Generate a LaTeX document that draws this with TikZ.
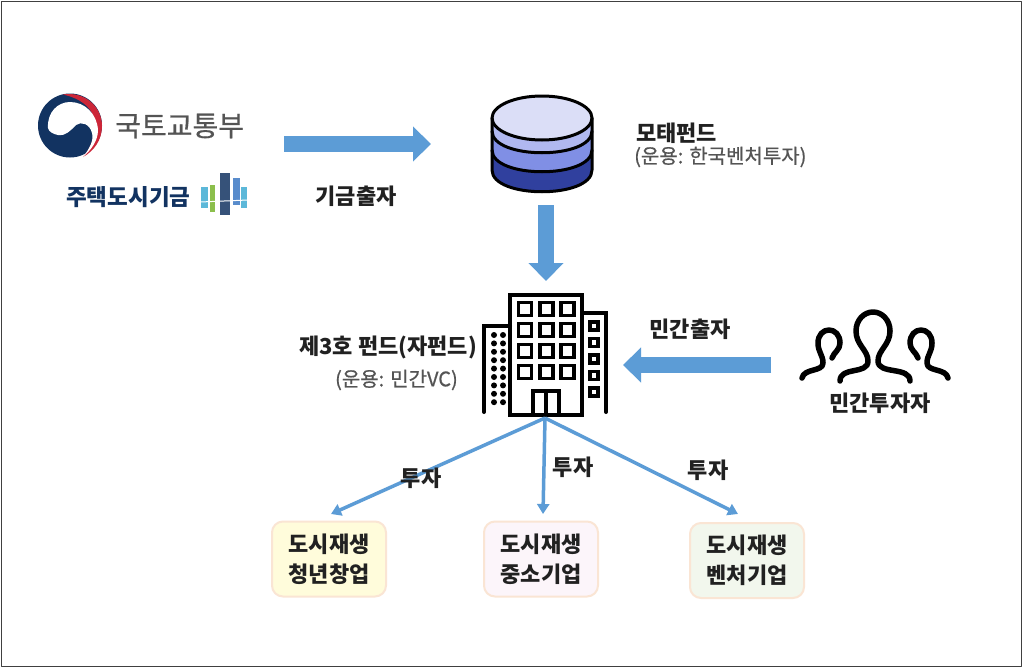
\documentclass[tikz,border=0pt]{standalone}
\usepackage{fontspec}
\setmainfont{Noto Sans CJK KR}
\newfontfamily\midfont[FakeBold=0.6]{Noto Sans CJK KR}
\usetikzlibrary{arrows.meta}
\definecolor{navyblue}{rgb}{0.07,0.20,0.38}
\definecolor{logored}{rgb}{0.80,0.15,0.22}
\definecolor{arrowblue}{rgb}{0.36,0.61,0.84}
\definecolor{boxline}{rgb}{0.98,0.90,0.83}
\definecolor{boxyellow}{rgb}{1.,0.99,0.86}
\definecolor{boxpink}{rgb}{0.99,0.96,0.98}
\definecolor{boxgreen}{rgb}{0.95,0.97,0.93}
\definecolor{diskone}{rgb}{0.86,0.87,0.97}
\definecolor{disktwo}{rgb}{0.69,0.72,0.94}
\definecolor{diskthree}{rgb}{0.50,0.56,0.90}
\definecolor{diskfour}{rgb}{0.19,0.25,0.62}
\definecolor{inktext}{rgb}{0.13,0.13,0.13}
\definecolor{graytext}{rgb}{0.33,0.33,0.33}
\definecolor{markcyan}{rgb}{0.36,0.72,0.85}
\definecolor{markgreen}{rgb}{0.55,0.75,0.30}
\definecolor{markblue}{rgb}{0.35,0.55,0.80}
\tikzset{
  bigarrow/.style={draw=arrowblue,line width=16pt,line cap=butt,-{Triangle[length=18pt,width=34pt]}},
  thinarrow/.style={draw=arrowblue,line width=3.5pt,line cap=butt,-{Triangle[length=10pt,width=12pt]}},
  fundbox/.style={draw=boxline,line width=2pt,rounded corners=11pt,minimum width=114pt,minimum height=75pt,
    align=center,font=\fontsize{22}{30}\selectfont\bfseries,text=inktext,inner sep=0pt},
  labeltext/.style={font=\fontsize{22}{26}\selectfont\bfseries,text=inktext,inner sep=0pt},
  subtext/.style={font=\midfont\fontsize{20}{22}\selectfont,text=graytext,inner sep=0pt},
  bldg/.style={line width=4pt,line cap=round,line join=miter},
  winframe/.style={line width=3.8pt,line join=miter},
}
\begin{document}
\begin{tikzpicture}[line cap=round,line join=round,>=latex,x=1pt,y=-1pt]
\useasboundingbox (0,0) rectangle (1024,669);
\fill[white] (0,0) rectangle (1024,669);
\draw[color=black!75,line width=1.5pt] (1.5,1.5) rectangle (1021.5,666.5);
% ministry mark
\fill[navyblue] (70,125.5) circle (32);
\fill[logored] (63,94.5) .. controls (85,91) and (102,107) .. (102,126) .. controls (102,140) and (94,151) .. (83,157) .. controls (92,147) and (98,130) .. (92,113) .. controls (86,102) and (74,97) .. (63,94.5) -- cycle;
\fill[white] (48,128) .. controls (47,112) and (58,102) .. (70,102) .. controls (85,102) and (97,114) .. (98,130) .. controls (98,141) and (91,150) .. (83,157) .. controls (90,148) and (94,140) .. (92,133) .. controls (90,124) and (81,121) .. (76,125) .. controls (70,131) and (66,136) .. (58,135) .. controls (53,134) and (49,132) .. (48,128) -- cycle;
\node[font=\midfont\fontsize{28}{30}\selectfont,text=graytext,anchor=west,inner sep=0pt] (ministry) at (115,126) {국토교통부};
\node[font=\fontsize{22.5}{26}\selectfont\bfseries,text=navyblue,anchor=west,inner sep=0pt] (hugfund) at (66,197) {주택도시기금};
% fund mark
\fill[markcyan] (201,187) rectangle (208,208);
\fill[markgreen] (210,185) rectangle (215,212);
\fill[navyblue!85] (220,173) rectangle (230,215);
\fill[markblue] (233,178) rectangle (240,205);
\fill[markcyan] (241,187) rectangle (247,208);
\draw[white,line width=1pt] (200,202) -- (248,200);
% fund of funds disk
\fill[diskfour] (492,170) .. controls (492,199) and (592,199) .. (592,170) -- (592,150) -- (492,150) -- cycle;
\fill[diskthree] (492,150) .. controls (492,179) and (592,179) .. (592,150) -- (592,131) -- (492,131) -- cycle;
\fill[disktwo] (492,131) .. controls (492,160) and (592,160) .. (592,131) -- (592,118) -- (492,118) -- cycle;
\draw[line width=3pt,fill=diskone] (542,118) circle[x radius=50,y radius=22];
\draw[line width=3pt] (492,118) -- (492,170) .. controls (492,199) and (592,199) .. (592,170) -- (592,118);
\draw[line width=3pt] (492,131) .. controls (492,160) and (592,160) .. (592,131);
\draw[line width=3pt] (492,150) .. controls (492,179) and (592,179) .. (592,150);
\node[labeltext,anchor=west] (motherfund) at (636,133) {모태펀드};
\node[subtext,anchor=west] (mothersub) at (634,157) {(운용: 한국벤처투자)};
% office building
\draw[bldg] (510,415) -- (510,295) -- (582,295) -- (582,415) -- cycle;
\draw[bldg] (510,326) -- (484,326) -- (484,412);
\draw[bldg] (582,313) -- (606,313) -- (606,412);
\foreach \xa in {525,546.5,567.5}
  \foreach \ya in {309,330,351,372}
    \draw[winframe] (\xa-6.5,\ya-6.5) rectangle (\xa+6.5,\ya+6.5);
\draw[winframe] (533,415) -- (533,391) -- (559,391) -- (559,415);
\draw[line width=3.8pt] (546,391) -- (546,415);
\foreach \ya in {335,343.4,...,403}{
  \fill (494,\ya) circle (3);
  \fill (503,\ya) circle (3);
}
\foreach \ya in {326,342.5,359,375.5,392}
  \draw[winframe] (590,\ya-4) rectangle (598,\ya+4);
\node[labeltext,anchor=east] (subfund) at (477,347) {제3호 펀드(자펀드)};
\node[subtext,anchor=east] (subfundsub) at (458,380) {(운용: 민간VC)};
% investors
\draw[line width=5.5pt] (840,381) .. controls (840,366) and (868,375) .. (868,361) .. controls (868,350) and (856,345) .. (856,331) .. controls (856,320) and (864,312) .. (873,312) .. controls (882,312) and (890,320) .. (890,331) .. controls (890,345) and (878,350) .. (878,361) .. controls (878,375) and (910,366) .. (910,381);
\draw[line width=5.5pt] (802,378) .. controls (804,368) and (823,372) .. (823,363) .. controls (823,355) and (818,352) .. (818,343) .. controls (818,335) and (823,330) .. (829,330) .. controls (835,330) and (840,335) .. (840,343) .. controls (840,350) and (834,352) .. (832,358);
\draw[line width=5.5pt] (948,378) .. controls (946,368) and (927,372) .. (927,363) .. controls (927,355) and (932,352) .. (932,343) .. controls (932,335) and (927,330) .. (921,330) .. controls (915,330) and (910,335) .. (910,343) .. controls (910,350) and (916,352) .. (918,358);
\node[labeltext] (investor) at (880,403) {민간투자자};
% connectors
\coordinate (fromfund) at (284,144);
\coordinate (todisk) at (431,144);
\coordinate (fromdisk) at (546,205);
\coordinate (tobldg) at (546,281);
\coordinate (frominv) at (771,365);
\coordinate (toright) at (623,365);
\coordinate (bldgfoot) at (545,418);
\coordinate (toone) at (331,514);
\coordinate (totwo) at (543,514);
\coordinate (tothree) at (738,514);
\draw[bigarrow] (fromfund) -- (todisk);
\draw[bigarrow] (fromdisk) -- (tobldg);
\draw[bigarrow] (frominv) -- (toright);
\draw[thinarrow] (bldgfoot) -- (toone);
\draw[thinarrow] (bldgfoot) -- (totwo);
\draw[thinarrow] (bldgfoot) -- (tothree);
\node[labeltext] (seedlabel) at (356,196) {기금출자};
\node[labeltext] (privlabel) at (690,329) {민간출자};
\node[labeltext] (investone) at (421,478) {투자};
\node[labeltext] (investtwo) at (573,467) {투자};
\node[labeltext] (investthree) at (708,470) {투자};
\node[fundbox,fill=boxyellow] (boxone) at (329,559) {도시재생\\청년창업};
\node[fundbox,fill=boxpink] (boxtwo) at (541,559) {도시재생\\중소기업};
\node[fundbox,fill=boxgreen] (boxthree) at (747,560.5) {도시재생\\벤처기업};
\end{tikzpicture}
\end{document}
